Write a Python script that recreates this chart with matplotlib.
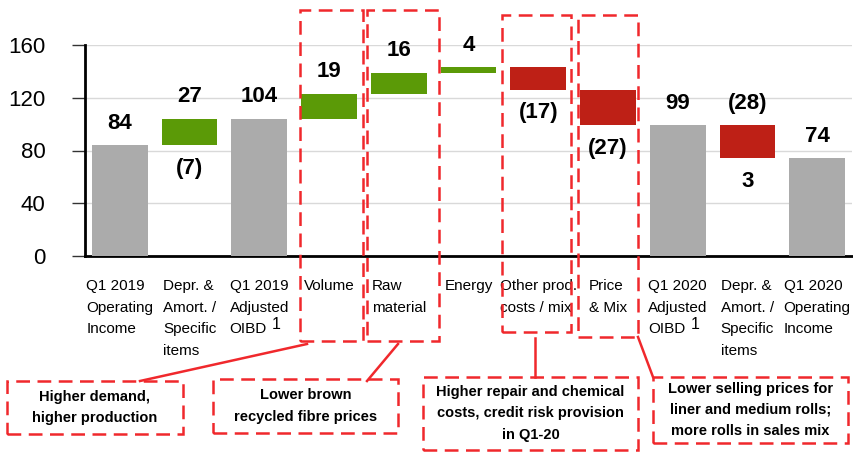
import matplotlib
matplotlib.use("Agg")
import matplotlib.pyplot as plt
from matplotlib.patches import Rectangle
from matplotlib.lines import Line2D

plt.rcParams['font.family'] = ['Liberation Sans', 'DejaVu Sans']

# ---------------- data ----------------
categories = ["Q1 2019\nOperating\nIncome", "Depr. &\nAmort. /\nSpecific\nitems",
              "Q1 2019\nAdjusted\nOIBD", "Volume", "Raw\nmaterial", "Energy",
              "Other prod.\ncosts / mix", "Price\n& Mix", "Q1 2020\nAdjusted\nOIBD",
              "Depr. &\nAmort. /\nSpecific\nitems", "Q1 2020\nOperating\nIncome"]
values = [84, 20, 104, 19, 16, 4, -17, -27, 99, -25, 74]
is_total = [True, False, True, False, False, False, False, False, True, False, True]
top_labels = ["84", "27", "104", "19", "16", "4", "", "", "99", "(28)", "74"]
bottom_labels = ["", "(7)", "", "", "", "", "(17)", "(27)", "", "3", ""]
yticks = [0, 40, 80, 120, 160]
callouts = ["Higher demand,\nhigher production",
            "Lower brown\nrecycled fibre prices",
            "Higher repair and chemical\ncosts, credit risk provision\nin Q1-20",
            "Lower selling prices for\nliner and medium rolls;\nmore rolls in sales mix"]

GRAY = "#ABABAB"
GREEN = "#5B9A07"
RED = "#BE2016"
DRED = "#F0282C"

W, H = 854, 453
fig = plt.figure(figsize=(W / 100, H / 100), dpi=100)
ax = fig.add_axes([85 / W, (H - 256) / H, (852 - 85) / W, (256 - 45) / H])

# waterfall
bottoms, heights, colors = [], [], []
running = 0
for v, t in zip(values, is_total):
    if t:
        bottoms.append(0); heights.append(v); colors.append(GRAY); running = v
    else:
        if v >= 0:
            bottoms.append(running); heights.append(v); colors.append(GREEN)
        else:
            bottoms.append(running + v); heights.append(-v); colors.append(RED)
        running += v

x = list(range(len(categories)))
ax.bar(x, heights, bottom=bottoms, width=0.8, color=colors, zorder=3)

for i in x:
    top = bottoms[i] + heights[i]
    bot = bottoms[i]
    if top_labels[i]:
        ax.annotate(top_labels[i], xy=(i, top), xytext=(0, 12), textcoords="offset points",
                    ha="center", va="baseline", fontsize=16, fontweight="bold")
    if bottom_labels[i]:
        ax.annotate(bottom_labels[i], xy=(i, bot), xytext=(0, -9), textcoords="offset points",
                    ha="center", va="top", fontsize=16, fontweight="bold")

ax.set_xlim(-0.5, 10.5)
ax.set_ylim(0, 160)
ax.set_yticks(yticks)
ax.set_yticklabels([str(v) for v in yticks], fontsize=16)
ax.tick_params(axis="y", length=9.5, width=1.0, color="#333333", pad=19)
ax.yaxis.grid(True, color="#D9D9D9", linewidth=1.0, zorder=0)
ax.set_axisbelow(True)
ax.set_xticks(x)
ax.set_xticklabels(categories, fontsize=11, linespacing=1.7)
for lab in ax.get_xticklabels():
    lab.set_multialignment("left")
ax.tick_params(axis="x", length=0, pad=16.5)
for s in ["top", "right"]:
    ax.spines[s].set_visible(False)
ax.spines["left"].set_linewidth(2)
ax.spines["bottom"].set_linewidth(2)

# superscript footnote marks on Adjusted OIBD
for i in (2, 8):
    ax.annotate("1", xy=(i, 0), xycoords=("data", "axes fraction"), xytext=(12.5, -49),
                textcoords="offset points", ha="center", va="center", fontsize=11.5)

# ---------- overlay: dashed boxes, connectors, callouts ----------
def fx(px):
    return px / W

def fy(py):
    return 1 - py / H

dash = (0, (5.5, 3.0))

def dbox(x0, y0, x1, y1):
    fig.patches.append(Rectangle((fx(x0), fy(y1)), fx(x1) - fx(x0), fy(y0) - fy(y1),
                                 transform=fig.transFigure, fill=False, edgecolor=DRED,
                                 linewidth=1.8, linestyle=dash, zorder=10))

def sline(x0, y0, x1, y1):
    fig.lines.append(Line2D([fx(x0), fx(x1)], [fy(y0), fy(y1)], transform=fig.transFigure,
                            color=DRED, linewidth=1.8, zorder=10))

# highlight boxes around categories
dbox(300, 10, 363, 341)
dbox(367, 10, 439, 341)
dbox(502, 15, 571, 332)
dbox(578, 15, 638, 337)

# callout boxes
cboxes = [(7, 381, 183, 434), (213, 379, 398, 433), (423, 377, 638, 450), (653, 377, 848, 443)]
for (x0, y0, x1, y1), txt in zip(cboxes, callouts):
    dbox(x0, y0, x1, y1)
    fig.text(fx((x0 + x1) / 2), fy((y0 + y1) / 2), txt, ha="center", va="center",
             fontsize=10.5, fontweight="bold", linespacing=1.65, zorder=11)

# connectors
sline(307, 344, 140, 381)
sline(398, 344, 367, 381)
sline(535, 338, 535, 377)
sline(638, 337, 653, 377)

fig.savefig("out.png", dpi=100)
